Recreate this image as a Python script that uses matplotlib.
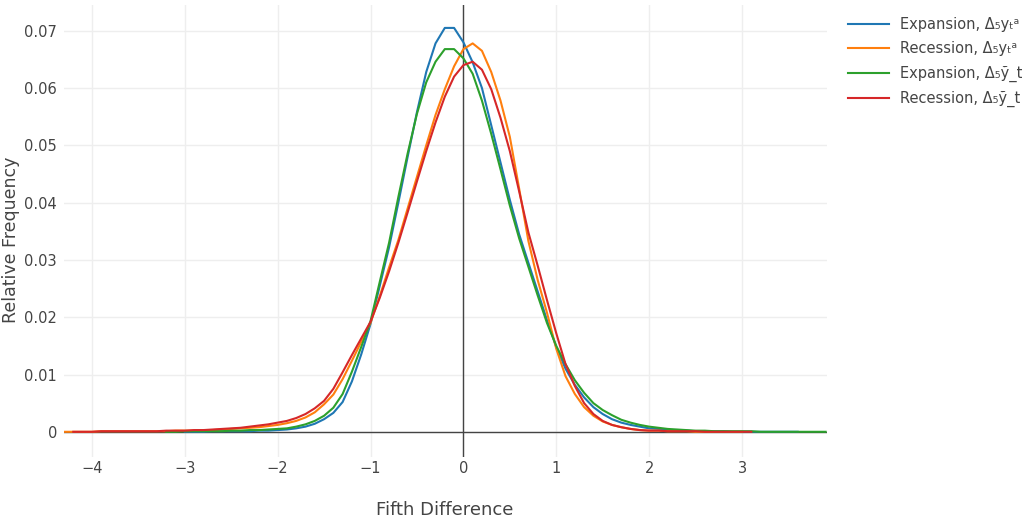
import numpy as np
import matplotlib
matplotlib.use("Agg")
import matplotlib.pyplot as plt

plt.rcParams['font.family'] = ['DejaVu Sans']

# ---- data ----
labels = ["Expansion, Δ₅yₜᵃ", "Recession, Δ₅yₜᵃ", "Expansion, Δ₅ỹ_t", "Recession, Δ₅ỹ_t"]
colors = ["#1f77b4", "#ff7f0e", "#2ca02c", "#d62728"]

blue_start = -3.0
blue_vals = [0.0000, 0.0000, 0.0000, 0.0001, 0.0001, 0.0001, 0.0001, 0.0001, 0.0002, 0.0002,
             0.0003, 0.0004, 0.0006, 0.0009, 0.0014, 0.0022, 0.0033, 0.0052, 0.0088, 0.0135,
             0.0188, 0.0255, 0.0322, 0.0400, 0.0480, 0.0558, 0.0628, 0.0678, 0.0705, 0.0705,
             0.0680, 0.0645, 0.0600, 0.0535, 0.0470, 0.0405, 0.0345, 0.0295, 0.0245, 0.0195,
             0.0148, 0.0110, 0.0082, 0.0060, 0.0043, 0.0031, 0.0022, 0.0016, 0.0012, 0.0009,
             0.0006, 0.0005, 0.0003, 0.0002, 0.0002, 0.0001, 0.0001, 0.0001, 0.0001, 0.0000,
             0.0000, 0.0000, 0.0000, 0.0000, 0.0000, 0.0000, 0.0000]

orange_start = -4.3
orange_vals = [0.0000, 0.0000, 0.0000, 0.0000, 0.0001, 0.0001, 0.0001, 0.0001, 0.0001, 0.0001,
               0.0001, 0.0001, 0.0002, 0.0002, 0.0002, 0.0003, 0.0003, 0.0004,
               0.0005, 0.0006, 0.0007, 0.0008, 0.0010,
               0.0012, 0.0015, 0.0019, 0.0025, 0.0034, 0.0048, 0.0065, 0.0092, 0.0124, 0.0157,
               0.0190, 0.0237, 0.0287, 0.0335, 0.0390, 0.0445, 0.0500, 0.0553, 0.0598, 0.0638,
               0.0668, 0.0678, 0.0665, 0.0628, 0.0578, 0.0515, 0.0425, 0.0333, 0.0265, 0.0208,
               0.0145, 0.0097, 0.0066, 0.0043, 0.0028, 0.0018, 0.0012, 0.0008, 0.0005, 0.0003,
               0.0002, 0.0002, 0.0001, 0.0001, 0.0001, 0.0000, 0.0000, 0.0000, 0.0000, 0.0000, 0.0000]

green_start = -3.2
green_vals = [0.0000, 0.0000, 0.0001, 0.0001, 0.0001, 0.0001, 0.0001, 0.0002, 0.0002, 0.0003, 0.0003, 0.0004,
              0.0005, 0.0006, 0.0009, 0.0013, 0.0019, 0.0028, 0.0042, 0.0066, 0.0105, 0.0148,
              0.0193, 0.0262, 0.0330, 0.0410, 0.0486, 0.0555, 0.0610, 0.0646, 0.0668, 0.0668,
              0.0652, 0.0625, 0.0578, 0.0520, 0.0458, 0.0395, 0.0338, 0.0288, 0.0238, 0.0190,
              0.0150, 0.0118, 0.0090, 0.0068, 0.0050, 0.0038, 0.0029, 0.0021, 0.0016, 0.0012,
              0.0009, 0.0007, 0.0005, 0.0004, 0.0003, 0.0002, 0.0002, 0.0001, 0.0001, 0.0001,
              0.0001, 0.0001, 0.0000, 0.0000, 0.0000, 0.0000, 0.0000, 0.0000, 0.0000, 0.0000]

red_start = -4.2
red_vals = [0.0000, 0.0000, 0.0000, 0.0001, 0.0001, 0.0001, 0.0001, 0.0001, 0.0001, 0.0001, 0.0002, 0.0002,
            0.0002, 0.0003, 0.0003, 0.0004, 0.0005, 0.0006, 0.0007, 0.0009, 0.0011, 0.0013,
            0.0016, 0.0019, 0.0024, 0.0031, 0.0041, 0.0054, 0.0075, 0.0104, 0.0134, 0.0163,
            0.0192, 0.0234, 0.0280, 0.0330, 0.0383, 0.0437, 0.0490, 0.0540, 0.0585, 0.0620,
            0.0640, 0.0646, 0.0632, 0.0598, 0.0548, 0.0490, 0.0420, 0.0348, 0.0290, 0.0230,
            0.0172, 0.0118, 0.0080, 0.0050, 0.0031, 0.0019, 0.0012, 0.0008, 0.0005, 0.0003,
            0.0002, 0.0002, 0.0001, 0.0001, 0.0001, 0.0001, 0.0000, 0.0000, 0.0000, 0.0000, 0.0000, 0.0000]

starts = [blue_start, orange_start, green_start, red_start]
series = [blue_vals, orange_vals, green_vals, red_vals]

x_ticks = [-4, -3, -2, -1, 0, 1, 2, 3]
x_tick_labels = ["−4", "−3", "−2", "−1", "0", "1", "2", "3"]
y_ticks = [0, 0.01, 0.02, 0.03, 0.04, 0.05, 0.06, 0.07]
y_tick_labels = ["0", "0.01", "0.02", "0.03", "0.04", "0.05", "0.06", "0.07"]

# ---- figure ----
W, H = 1032, 523
fig = plt.figure(figsize=(W / 100, H / 100), dpi=100)
L, R, T, B = 64, 827, 5, 457
ax = fig.add_axes([L / W, 1 - B / H, (R - L) / W, (B - T) / H])

for s, v, c, lab in zip(starts, series, colors, labels):
    x = np.round(s + 0.1 * np.arange(len(v)), 2)
    ax.plot(x, v, color=c, lw=1.5, label=lab, zorder=3, solid_joinstyle='round')

ax.set_xlim(-4.3, 3.915)
ax.set_ylim(-0.0044, 0.0745)

ax.set_xticks(x_ticks)
ax.set_xticklabels(x_tick_labels)
ax.set_yticks(y_ticks)
ax.set_yticklabels(y_tick_labels)
ax.tick_params(axis='both', length=0, labelsize=10.5, labelcolor='#444444')
ax.tick_params(axis='x', pad=3)
ax.tick_params(axis='y', pad=5)
ax.grid(True, color='#eeeeee', lw=1.0, zorder=0)
ax.set_axisbelow(True)
for sp in ax.spines.values():
    sp.set_visible(False)
ax.axhline(0, color='#444444', lw=1.0, zorder=2)
ax.axvline(0, color='#444444', lw=1.0, zorder=2)

fig.text(445 / W, 1 - 510 / H, "Fifth Difference", ha='center', va='center',
         fontsize=13, color='#444444')
fig.text(11 / W, 1 - 240 / H, "Relative Frequency", ha='center', va='center',
         rotation=90, fontsize=12.5, color='#444444')

leg = fig.legend(loc='upper left', bbox_to_anchor=(848 / W, 1 - 17 / H), frameon=False,
                 fontsize=10.5, handlelength=2.8, handletextpad=0.75, labelspacing=0.64,
                 borderaxespad=0, borderpad=0)
for t in leg.get_texts():
    t.set_color('#444444')

fig.savefig("out.png", dpi=100)
